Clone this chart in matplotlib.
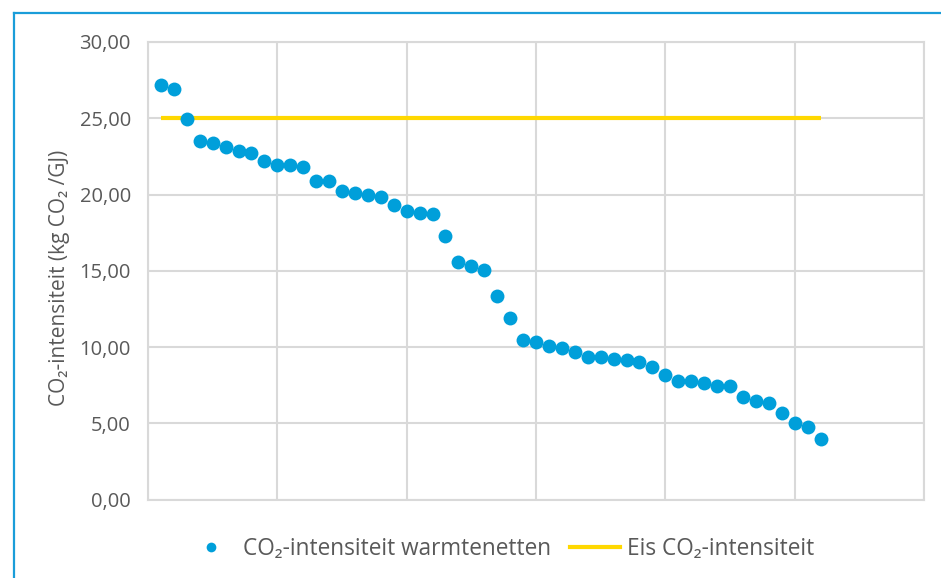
import matplotlib
matplotlib.use("Agg")
import matplotlib.pyplot as plt
from matplotlib.lines import Line2D
import numpy as np

plt.rcParams['font.family'] = ['Open Sans', 'DejaVu Sans']

# Data
positions = list(range(1, 53))
intensity = [27.18, 26.92, 24.95, 23.53, 23.40, 23.13, 22.87, 22.74, 22.22, 21.95,
             21.95, 21.82, 20.90, 20.90, 20.25, 20.12, 19.99, 19.86, 19.33, 18.94,
             18.81, 18.70, 17.28, 15.59, 15.31, 15.05, 13.34, 11.92, 10.46, 10.35,
             10.09, 9.95, 9.67, 9.32, 9.32, 9.19, 9.15, 9.04, 8.66, 8.14,
             7.74, 7.75, 7.62, 7.46, 7.46, 6.70, 6.44, 6.31, 5.67, 5.02,
             4.75, 3.97]
norm_value = 25.0
norm_x = [1, 52]
y_ticks = [0, 5, 10, 15, 20, 25, 30]
y_ticklabels = ["0,00", "5,00", "10,00", "15,00", "20,00", "25,00", "30,00"]
series_label = "CO\u2082-intensiteit warmtenetten"
norm_label = "Eis CO\u2082-intensiteit"
y_label = "CO\u2082-intensiteit (kg CO\u2082 /GJ)"

blue = "#009FDA"
yellow = "#FFD800"
grid = "#D9D9D9"
txt = "#595959"

W, H = 941, 578
fig = plt.figure(figsize=(W / 100, H / 100), dpi=100)
ax = fig.add_axes([148 / W, 1 - 499.5 / H, (924 - 148) / W, (499.5 - 42) / H])

ax.plot(norm_x, [norm_value] * len(norm_x), color=yellow, lw=3, solid_capstyle='butt', zorder=2)
ax.plot(positions, intensity, 'o', color=blue, markersize=10, markeredgewidth=0, zorder=3)

ax.set_xlim(0, 60)
ax.set_ylim(0, 30)
ax.set_xticks(np.arange(0, 61, 10))
ax.set_xticklabels([])
ax.set_yticks(y_ticks)
ax.set_yticklabels(y_ticklabels)
ax.tick_params(axis='both', length=0, colors=txt, labelsize=14.5, pad=12.3)
ax.grid(True, color=grid, lw=1.5)
ax.set_axisbelow(True)
for s in ax.spines.values():
    s.set_color(grid)
    s.set_linewidth(1.5)

ax.set_ylabel(y_label, color=txt, fontsize=15, labelpad=9)
ax.yaxis.set_label_coords(-0.101, 0.485)

handles = [
    Line2D([], [], marker='o', color=blue, ls='none', markersize=7, markeredgewidth=0),
    Line2D([], [], color=yellow, lw=3),
]
fig.legend(handles, [series_label, norm_label], loc='center',
           bbox_to_anchor=(500 / W, 1 - 549 / H), ncol=2, frameon=False,
           fontsize=16.3, labelcolor=txt, handlelength=2.2, columnspacing=0.85,
           handletextpad=0.3)

# Blue frame (top and left edges visible)
fig.add_artist(Line2D([14 / W, 1], [1 - 12.5 / H, 1 - 12.5 / H], color="#1A9DD9", lw=1.6,
                      transform=fig.transFigure))
fig.add_artist(Line2D([14 / W, 14 / W], [0, 1 - 12.5 / H], color="#1A9DD9", lw=1.6,
                      transform=fig.transFigure))

fig.savefig("out.png", dpi=100)
